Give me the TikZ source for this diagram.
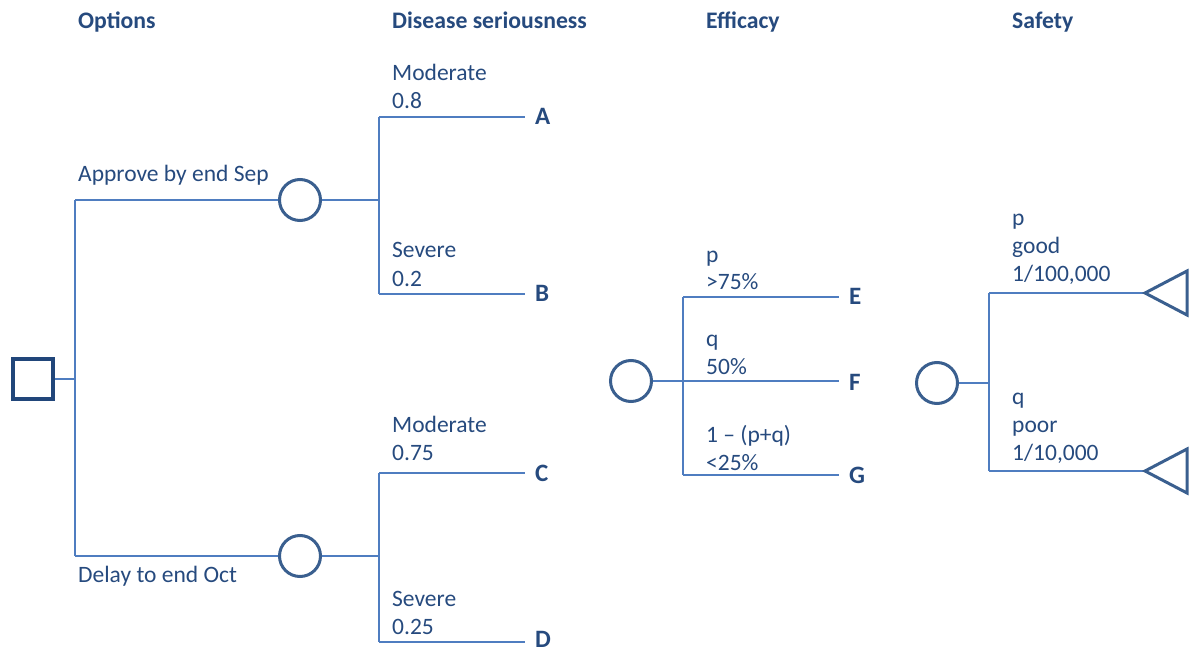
\documentclass[tikz,border=0pt]{standalone}
\usepackage{fontspec}
\setmainfont{Carlito}
\definecolor{txt}{HTML}{264A7E}
\definecolor{shp}{HTML}{3A5F8F}
\definecolor{sqc}{HTML}{21467A}
\definecolor{lnc}{HTML}{4F7DC0}
\begin{document}
\begin{tikzpicture}[x=1pt,y=-1pt,
  every node/.style={text=txt},
  lbl/.style={anchor=base west, inner sep=0pt, font=\fontsize{23.5}{28}\selectfont},
  hdr/.style={anchor=base west, inner sep=0pt, font=\fontsize{23.7}{28}\selectfont\bfseries},
  end/.style={anchor=base west, inner sep=0pt, font=\fontsize{25}{28}\selectfont\bfseries},
  chance/.style={circle, draw=shp, line width=3pt, minimum size=41pt, inner sep=0pt},
  decision/.style={rectangle, draw=sqc, line width=3.5pt, minimum size=40pt, inner sep=0pt},
  branch/.style={draw=lnc, line width=1.5pt},
  term/.style={draw=shp, line width=3pt, line join=miter}]
\useasboundingbox (0,0) rectangle (1189,652);

% headings
\node[hdr] (h1) at (78,29) {Options};
\node[hdr] (h2) at (392,29) {Disease seriousness};
\node[hdr] (h3) at (706,29) {Efficacy};
\node[hdr] (h4) at (1012,29) {Safety};

% decision node
\node[decision] (dec) at (33,379) {};
\coordinate (j0) at (75,379);
\coordinate (j0a) at (75,200);
\coordinate (j0b) at (75,556);

% chance nodes
\node[chance] (c1) at (300,200) {};
\node[chance] (c2) at (300,556) {};
\node[chance] (c3) at (631,381) {};
\node[chance] (c4) at (937,383) {};

% option branches
\draw[branch] (dec.east) -- (j0);
\draw[branch] (j0a) -- (j0b);
\draw[branch] (j0a) -- (c1.west);
\draw[branch] (j0b) -- (c2.west);
\node[lbl] (o1) at (78,182) {Approve by end Sep};
\node[lbl] (o2) at (78,582) {Delay to end Oct};

% disease branches (upper)
\coordinate (j1) at (379,200);
\coordinate (j1a) at (379,117);
\coordinate (j1b) at (379,294);
\coordinate (eA) at (525,117);
\coordinate (eB) at (525,294);
\draw[branch] (c1.east) -- (j1);
\draw[branch] (j1a) -- (j1b);
\draw[branch] (j1a) -- (eA);
\draw[branch] (j1b) -- (eB);
\node[lbl] (m1) at (392,81) {Moderate};
\node[lbl] (m1p) at (392,109) {0.8};
\node[lbl] (s1) at (392,258) {Severe};
\node[lbl] (s1p) at (392,287) {0.2};
\node[end] (A) at (535,125) {A};
\node[end] (B) at (535,302) {B};

% disease branches (lower)
\coordinate (j2) at (379,556);
\coordinate (j2a) at (379,473);
\coordinate (j2b) at (379,642);
\coordinate (eC) at (525,473);
\coordinate (eD) at (525,642);
\draw[branch] (c2.east) -- (j2);
\draw[branch] (j2a) -- (j2b);
\draw[branch] (j2a) -- (eC);
\draw[branch] (j2b) -- (eD);
\node[lbl] (m2) at (392,432) {Moderate};
\node[lbl] (m2p) at (392,460) {0.75};
\node[lbl] (s2) at (392,606) {Severe};
\node[lbl] (s2p) at (392,634) {0.25};
\node[end] (C) at (535,481) {C};
\node[end] (D) at (535,647) {D};

% efficacy
\coordinate (j3) at (683,381);
\coordinate (j3a) at (683,297);
\coordinate (j3b) at (683,475);
\coordinate (eE) at (839,297);
\coordinate (eF) at (839,381);
\coordinate (eG) at (839,475);
\draw[branch] (c3.east) -- (eF);
\draw[branch] (j3a) -- (j3b);
\draw[branch] (j3a) -- (eE);
\draw[branch] (j3b) -- (eG);
\node[lbl] (ep) at (706,263) {p};
\node[lbl] (epv) at (706,290) {>75\%};
\node[lbl] (eq) at (706,347) {q};
\node[lbl] (eqv) at (706,374) {50\%};
\node[lbl] (er) at (706,442) {1 – (p+q)};
\node[lbl] (erv) at (706,470) {<25\%};
\node[end] (E) at (849,305) {E};
\node[end] (F) at (849,390) {F};
\node[end] (G) at (849,483) {G};

% safety
\coordinate (j4) at (989,383);
\coordinate (j4a) at (989,293);
\coordinate (j4b) at (989,471);
\coordinate (t1) at (1145,293);
\coordinate (t2) at (1145,471);
\draw[branch] (c4.east) -- (j4);
\draw[branch] (j4a) -- (j4b);
\draw[branch] (j4a) -- (t1);
\draw[branch] (j4b) -- (t2);
\draw[term] (t1) -- ++(42,-22) -- ++(0,44) -- cycle;
\draw[term] (t2) -- ++(42,-22) -- ++(0,44) -- cycle;
\node[lbl] (sp) at (1012,226) {p};
\node[lbl] (sg) at (1012,254) {good};
\node[lbl] (sgv) at (1012,282) {1/100,000};
\node[lbl] (sq) at (1012,404) {q};
\node[lbl] (spo) at (1012,432) {poor};
\node[lbl] (spv) at (1012,460) {1/10,000};
\end{tikzpicture}
\end{document}
